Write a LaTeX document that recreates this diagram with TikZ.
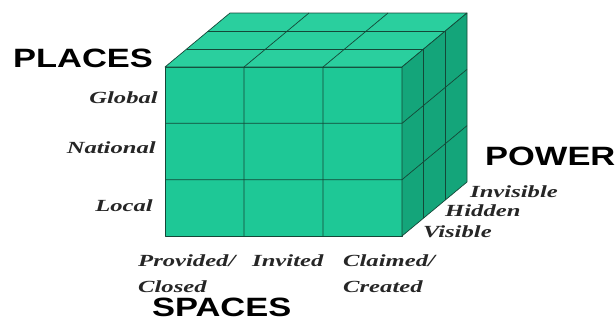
\documentclass[tikz,border=0pt]{standalone}
\usepackage{fontspec}
\setmainfont{Liberation Serif}
\newfontfamily\headfont{Liberation Sans}[FakeStretch=1.3]
\newfontfamily\lblfont{Liberation Serif}[FakeStretch=1.45]
\definecolor{cubefront}{RGB}{30,200,150}
\definecolor{cubetop}{RGB}{42,207,158}
\definecolor{cubeside}{RGB}{20,165,122}
\definecolor{cubeline}{RGB}{20,72,56}
\tikzset{
  axislbl/.style={font=\headfont\bfseries\fontsize{26.5}{26.5}\selectfont,
                  anchor=base west,inner sep=0pt},
  lvl/.style={font=\lblfont\bfseries\itshape\fontsize{17}{17}\selectfont,
              inner sep=0pt,text=black!85},
  face/.style={draw=cubeline,line width=0.7pt,line join=round},
}
\begin{document}
\begin{tikzpicture}[x=1pt,y=-1pt]
  \useasboundingbox (0,0) rectangle (616,322);
  \def\X{165}    % front left
  \def\Y{67}     % front top
  \def\W{237}    % front width
  \def\H{169}    % front height
  \def\dx{65}    % depth shift
  \def\dy{54}
  % --- the three visible faces ---
  \draw[face,fill=cubefront] (\X,\Y) rectangle ++(\W,\H);
  \draw[face,fill=cubetop] (\X,\Y) -- ++(\dx,-\dy) -- ++(\W,0) -- ++(-\dx,\dy) -- cycle;
  \draw[face,fill=cubeside] (\X+\W,\Y) -- ++(\dx,-\dy) -- ++(0,\H) -- ++(-\dx,\dy) -- cycle;
  % --- grid: columns, rows, depth slices ---
  \foreach \i in {1,2}{
    \draw[face] ({\X+\W/3*\i},\Y+\H) -- ++(0,-\H) -- ++(\dx,-\dy);
    \draw[face] (\X,{\Y+\H/3*\i}) -- ++(\W,0) -- ++(\dx,-\dy);
    \draw[face] ({\X+\dx/3*\i},{\Y-\dy/3*\i}) -- ++(\W,0) -- ++(0,\H);
  }
  % --- PLACES ---
  \node[axislbl] (places) at (13,67) {PLACES};
  \node[lvl,anchor=base east] (global) at (158,103) {Global};
  \node[lvl,anchor=base east] (national) at (156,153) {National};
  \node[lvl,anchor=base east] (local) at (153,211) {Local};
  % --- SPACES ---
  \node[lvl,anchor=base west] (provided) at (138,266) {Provided/};
  \node[lvl,anchor=base west] (closed) at (138,292) {Closed};
  \node[lvl,anchor=base west] (invited) at (252,266) {Invited};
  \node[lvl,anchor=base west] (claimed) at (343,266) {Claimed/};
  \node[lvl,anchor=base west] (created) at (343,292) {Created};
  \node[axislbl] (spaces) at (152,316) {SPACES};
  % --- POWER ---
  \node[axislbl] (power) at (485,165) {POWER};
  \node[lvl,anchor=base west] (invisible) at (470,197) {Invisible};
  \node[lvl,anchor=base west] (hidden) at (445,216) {Hidden};
  \node[lvl,anchor=base west] (visible) at (423,237) {Visible};
\end{tikzpicture}
\end{document}
